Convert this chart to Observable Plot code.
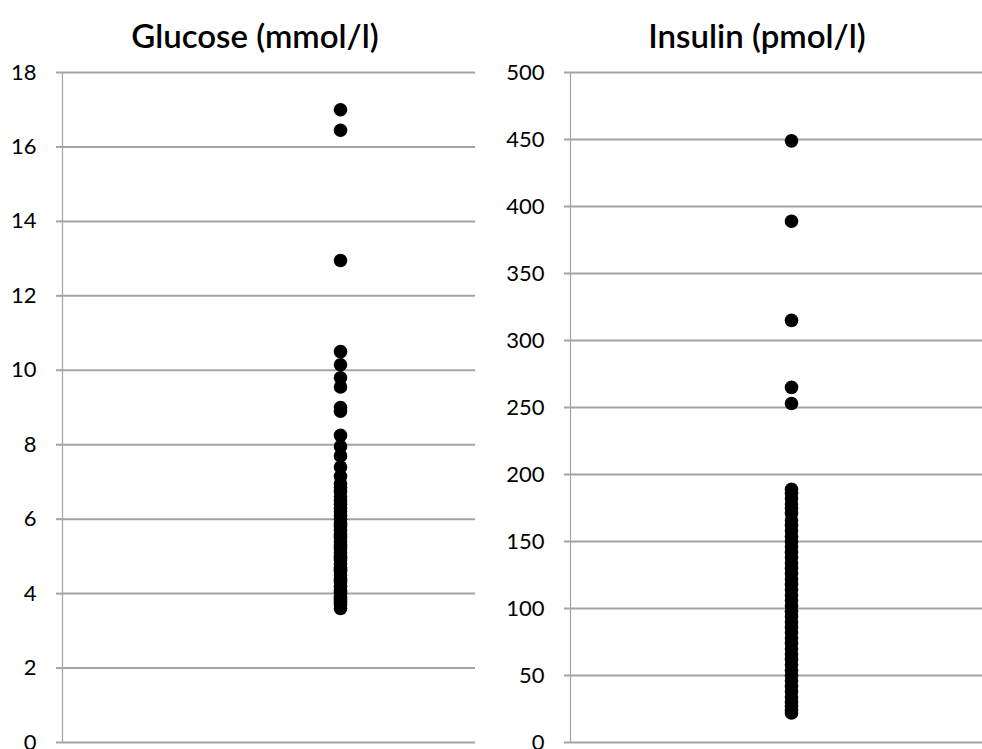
<!DOCTYPE html>
<html><head><meta charset="utf-8">
<script src="https://cdn.jsdelivr.net/npm/d3@7"></script>
<script src="https://cdn.jsdelivr.net/npm/@observablehq/plot@0.6"></script>
<style>
body{margin:0;background:#fff;}
#wrap{position:relative;width:982px;height:749px;overflow:hidden;background:#fff;}
.panel{position:absolute;top:0;}
.title{position:absolute;top:15px;font-family:Lato,"Open Sans",sans-serif;font-size:33px;font-weight:600;color:#000;white-space:nowrap;transform:translateX(-50%);}
</style></head><body><div id="wrap"></div>
<script>
const glucoseTitle = "Glucose (mmol/l)";
const insulinTitle = "Insulin (pmol/l)";
const glucoseTicks = [0, 2, 4, 6, 8, 10, 12, 14, 16, 18];
const insulinTicks = [0, 50, 100, 150, 200, 250, 300, 350, 400, 450, 500];
const glucoseValues = [17.0, 16.45, 12.95, 10.5, 10.15, 9.8, 9.55, 9.0, 8.9, 8.25, 7.95, 7.7, 7.4, 7.15, 6.95, 6.85, 6.75, 6.6, 6.5, 6.4, 6.3, 6.2, 6.1, 6.0, 5.9, 5.85, 5.8, 5.7, 5.6, 5.55, 5.5, 5.4, 5.3, 5.25, 5.2, 5.1, 5.0, 4.95, 4.9, 4.8, 4.7, 4.65, 4.6, 4.5, 4.4, 4.35, 4.3, 4.2, 4.1, 4.05, 4.0, 3.9, 3.85, 3.8, 3.75, 3.7, 3.6];
const insulinValues = [449, 389, 315, 265, 253, 189, 186, 182, 178, 175, 171, 166, 162, 158, 154, 150, 146, 142, 138, 134, 130, 126, 122, 118, 114, 110, 106, 102, 98, 94, 90, 86, 82, 78, 74, 70, 66, 62, 58, 54, 50, 46, 42, 38, 34, 30, 27, 24, 22];

function panel(name, values, ticks, domain, align, width, ml, mr) {
  return Plot.plot({
    width, height: 749,
    marginLeft: ml, marginRight: mr, marginTop: 72, marginBottom: 7,
    style: {fontFamily: "Lato, 'Open Sans', sans-serif", fontSize: "22px", color: "#000", background: "transparent", overflow: "visible"},
    x: {type: "point", domain: [name], align, axis: null},
    y: {domain, axis: null},
    marks: [
      Plot.ruleY(ticks, {stroke: "#a3a3a3", strokeWidth: 2}),
      Plot.frame({anchor: "left", stroke: "#a3a3a3", strokeWidth: 1.2}),
      Plot.axisY({ticks, tickSize: 6, tickPadding: 20, label: null, tickFormat: d => String(d), stroke: "#a3a3a3", strokeWidth: 2, fill: "#000", fontSize: 22}),
      Plot.dot(values, {x: () => name, y: d => d, r: 6.8, fill: "#000", stroke: null})
    ]
  });
}

const wrap = document.getElementById("wrap");
const left = panel("Glucose", glucoseValues, glucoseTicks, [0, 18], (340 - 62) / (475 - 62), 491, 62, 16);
left.classList.add("panel"); left.style.left = "0px";
const right = panel("Insulin", insulinValues, insulinTicks, [0, 500], (791 - 570) / (982 - 570), 491, 79, 0);
right.classList.add("panel"); right.style.left = "491px";
wrap.appendChild(left); wrap.appendChild(right);
const t1 = document.createElement("div"); t1.className = "title"; t1.textContent = glucoseTitle; t1.style.left = "255px";
const t2 = document.createElement("div"); t2.className = "title"; t2.textContent = insulinTitle; t2.style.left = "757px";
wrap.appendChild(t1); wrap.appendChild(t2);
</script></body></html>
